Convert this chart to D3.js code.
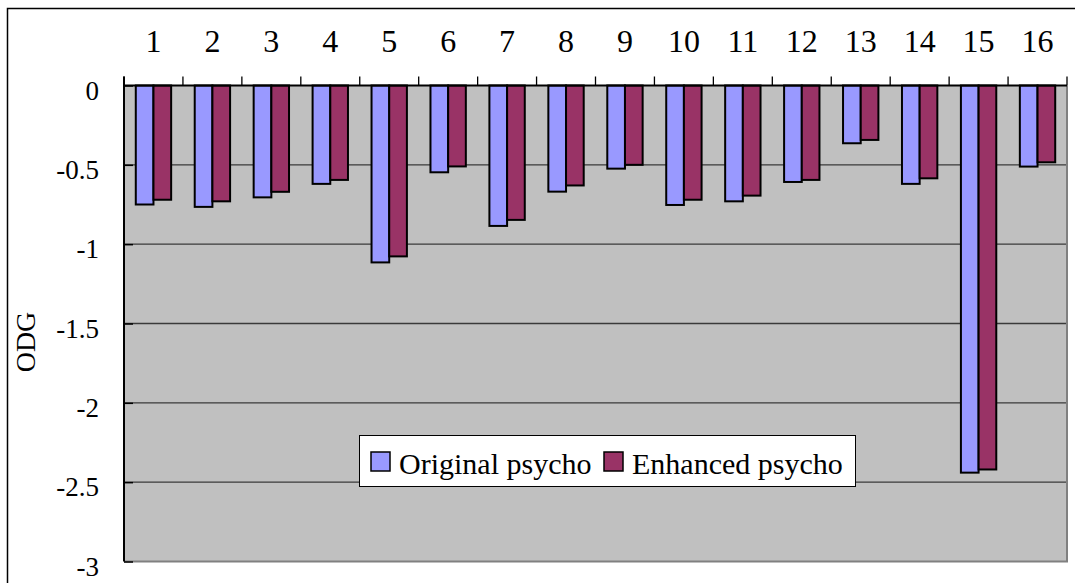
<!DOCTYPE html>
<html>
<head>
<meta charset="utf-8">
<script src="https://cdn.jsdelivr.net/npm/d3@7"></script>
<style>
  html, body { margin: 0; padding: 0; background: #ffffff; }
  svg { display: block; }
  text { font-family: "Liberation Serif", "Times New Roman", serif; fill: #000; }
</style>
</head>
<body>
<svg id="chart" width="1075" height="583"></svg>
<script>
// ODG scores per test item
const categories = ["1","2","3","4","5","6","7","8","9","10","11","12","13","14","15","16"];
const originalPsycho = [-0.75,-0.765,-0.705,-0.62,-1.115,-0.547,-0.885,-0.669,-0.524,-0.753,-0.73,-0.608,-0.364,-0.62,-2.44,-0.511];
const enhancedPsycho = [-0.72,-0.73,-0.67,-0.595,-1.077,-0.51,-0.847,-0.63,-0.5,-0.72,-0.694,-0.595,-0.343,-0.585,-2.42,-0.484];
const seriesNames = ["Original psycho", "Enhanced psycho"];
const seriesColors = ["#9999FF", "#993366"];
const yTicks = [0, -0.5, -1, -1.5, -2, -2.5, -3];
const yTickLabels = ["0", "-0.5", "-1", "-1.5", "-2", "-2.5", "-3"];

const svg = d3.select("#chart");

// outer frame (only left and top edges fall inside the canvas)
svg.append("rect")
  .attr("x", 7.5).attr("y", 8.5)
  .attr("width", 1100).attr("height", 600)
  .attr("fill", "#fff").attr("stroke", "#000").attr("stroke-width", 1.5);

const plot = { left: 124, right: 1067, top: 85.5, bottom: 561.5 };

const x = d3.scaleBand()
  .domain(categories)
  .range([plot.left, plot.right])
  .paddingInner(0)
  .paddingOuter(0);

const y = d3.scaleLinear()
  .domain([0, -3])
  .range([plot.top, plot.bottom]);

const inner = d3.scaleBand()
  .domain([0, 1])
  .range([0, x.bandwidth()])
  .paddingInner(0)
  .paddingOuter(0.6666);

// plot background
svg.append("rect")
  .attr("x", plot.left).attr("y", plot.top)
  .attr("width", plot.right - plot.left)
  .attr("height", plot.bottom - plot.top)
  .attr("fill", "#C0C0C0");

// horizontal gridlines
svg.append("g")
  .selectAll("line")
  .data(yTicks.filter(v => v !== 0 && v !== -3))
  .join("line")
  .attr("x1", plot.left).attr("x2", plot.right)
  .attr("y1", d => y(d)).attr("y2", d => y(d))
  .attr("stroke", "#3a3a3a").attr("stroke-width", 1.3);

// right and bottom border of plot area
svg.append("path")
  .attr("d", `M${plot.right},${plot.top}V${plot.bottom}H${plot.left}`)
  .attr("fill", "none").attr("stroke", "#808080").attr("stroke-width", 2);

// bars
const series = [originalPsycho, enhancedPsycho];
series.forEach((vals, si) => {
  svg.append("g")
    .selectAll("rect")
    .data(vals)
    .join("rect")
    .attr("x", (d, i) => x(categories[i]) + inner(si))
    .attr("y", y(0))
    .attr("width", inner.bandwidth())
    .attr("height", d => y(d) - y(0))
    .attr("fill", seriesColors[si])
    .attr("stroke", "#000")
    .attr("stroke-width", 2);
});

// top category axis
const xAxis = d3.axisTop(x).tickSize(0).tickPadding(0);
const gx = svg.append("g").attr("transform", `translate(0,${plot.top})`).call(xAxis);
gx.select(".domain").remove();
gx.selectAll("text")
  .attr("y", -34)
  .attr("font-size", 32)
  .attr("font-family", "Liberation Serif, serif")
  .attr("fill", "#000");

// category boundary ticks
svg.append("g")
  .selectAll("line")
  .data(d3.range(categories.length + 1))
  .join("line")
  .attr("x1", i => plot.left + i * x.step())
  .attr("x2", i => plot.left + i * x.step())
  .attr("y1", plot.top - 9).attr("y2", plot.top)
  .attr("stroke", "#000").attr("stroke-width", 1.3);

// zero line
svg.append("line")
  .attr("x1", plot.left).attr("x2", plot.right)
  .attr("y1", y(0)).attr("y2", y(0))
  .attr("stroke", "#000").attr("stroke-width", 2);

// value axis
const yAxis = d3.axisLeft(y)
  .tickValues(yTicks)
  .tickFormat((d, i) => yTickLabels[i])
  .tickSize(-9)
  .tickSizeOuter(0)
  .tickPadding(25);
const gy = svg.append("g").attr("transform", `translate(${plot.left},0)`).call(yAxis);
gy.select(".domain").attr("stroke", "#000").attr("stroke-width", 2)
  .attr("d", `M0,${plot.top - 9}V${plot.bottom}`);
gy.selectAll(".tick line").attr("stroke", "#000").attr("stroke-width", 1.5);
gy.selectAll("text")
  .attr("font-size", 27)
  .attr("font-family", "Liberation Serif, serif")
  .attr("fill", "#000")
  .attr("dy", "0.5em");

// axis title
svg.append("text")
  .attr("transform", "translate(35,342) rotate(-90)")
  .attr("text-anchor", "middle")
  .attr("font-size", 28)
  .text("ODG");

// legend
const legend = svg.append("g");
legend.append("rect")
  .attr("x", 359.5).attr("y", 435.5)
  .attr("width", 496).attr("height", 51)
  .attr("fill", "#fff").attr("stroke", "#000").attr("stroke-width", 1);
const legendX = [371, 604];
seriesNames.forEach((name, i) => {
  legend.append("rect")
    .attr("x", legendX[i]).attr("y", 452)
    .attr("width", 19).attr("height", 19)
    .attr("fill", seriesColors[i])
    .attr("stroke", "#000").attr("stroke-width", 1.5);
  legend.append("text")
    .attr("x", legendX[i] + 28).attr("y", 474)
    .attr("font-size", 30)
    .text(name);
});
</script>
</body>
</html>
